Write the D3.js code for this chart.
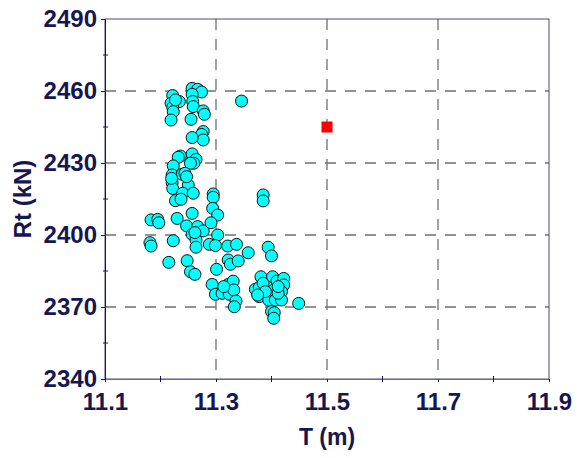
<!doctype html>
<html lang="en">
<head>
    <title>Rt vs T</title>
    <meta charset="utf-8"/>
    <script src="https://d3js.org/d3.v7.min.js"></script>
    <style>
        body {
            margin: 0;
            padding: 0;
            background: white;
        }
        svg text {
            font-family: "Liberation Sans", Arial, sans-serif;
            font-weight: bold;
            fill: #161650;
        }
    </style>
</head>
<body>
<script>

    // draught T (m) of every run
    const tValues = [
        11.222, 11.234, 11.219, 11.222, 11.223, 11.219, 11.257, 11.267, 11.274, 11.257,
        11.258, 11.259, 11.255, 11.277, 11.279, 11.277, 11.274, 11.277, 11.257, 11.346,
        11.236, 11.232, 11.257, 11.264, 11.260, 11.254, 11.223, 11.221, 11.239, 11.244,
        11.250, 11.221, 11.222, 11.240, 11.259, 11.227, 11.237, 11.295, 11.295, 11.294,
        11.303, 11.385, 11.385,
        11.183, 11.195, 11.197, 11.181, 11.183, 11.223, 11.230, 11.257, 11.247, 11.267,
        11.277, 11.257, 11.264, 11.264, 11.291, 11.303, 11.288, 11.299, 11.321, 11.337,
        11.358, 11.394, 11.400,
        11.215, 11.248, 11.254, 11.262, 11.322, 11.326, 11.340, 11.301, 11.293, 11.299,
        11.311, 11.322, 11.324, 11.331, 11.332, 11.336, 11.333, 11.314,
        11.371, 11.378, 11.381, 11.385, 11.378, 11.395, 11.402, 11.410, 11.422, 11.422,
        11.418, 11.404, 11.407, 11.418, 11.400, 11.405, 11.404, 11.449, 11.412, 11.389,
        11.227, 11.247, 11.220, 11.375, 11.412, 11.262
    ]

    // resistance Rt (kN), same order as tValues
    const rtValues = [
        2458.1, 2455.6, 2454.9, 2453.2, 2451.4, 2447.9, 2461.1, 2460.7, 2459.6, 2458.6,
        2455.6, 2453.5, 2448.2, 2451.7, 2450.3, 2443.1, 2441.9, 2439.6, 2440.6, 2455.8,
        2432.9, 2432.4, 2433.8, 2431.5, 2429.9, 2429.9, 2428.8, 2425.0, 2425.3, 2425.7,
        2420.8, 2421.8, 2419.4, 2417.4, 2417.4, 2414.3, 2414.9, 2417.1, 2415.7, 2411.1,
        2408.3, 2416.7, 2414.2,
        2406.3, 2406.5, 2405.1, 2396.8, 2395.4, 2397.6, 2406.9, 2409.0, 2403.8, 2403.5,
        2401.7, 2400.3, 2397.9, 2394.9, 2405.1, 2400.0, 2396.1, 2395.6, 2395.4, 2396.1,
        2392.6, 2394.9, 2391.3,
        2388.6, 2389.3, 2384.7, 2383.6, 2389.6, 2387.8, 2389.2, 2385.7, 2379.4, 2375.3,
        2375.7, 2379.4, 2375.3, 2380.8, 2377.1, 2372.5, 2370.1, 2378.5,
        2377.4, 2378.2, 2382.6, 2379.9, 2374.3, 2372.9, 2382.6, 2380.8, 2381.9, 2379.2,
        2376.4, 2377.1, 2372.9, 2372.9, 2368.1, 2367.6, 2365.3, 2371.5, 2375.7, 2376.4,
        2456.3, 2424.3, 2423.6, 2375.0, 2378.5, 2401.0
    ]

    // the single red reference point
    const refT = [11.5]
    const refRt = [2445]

    // ticks
    const xTicks = [11.1, 11.3, 11.5, 11.7, 11.9]
    const xMinor = [11.2, 11.4, 11.6, 11.8]
    const yTicks = [2340, 2370, 2400, 2430, 2460, 2490]
    const yMinor = [2355, 2385, 2415, 2445, 2475]

    const width = 586, height = 458
    const margin = {top: 19, right: 37, bottom: 79, left: 105}
    const navy = "#161650"

    const svg = d3.select("body")
        .append("svg")
        .attr("width", width)
        .attr("height", height)

    const x = d3.scaleLinear()
        .domain([11.1, 11.9])
        .range([margin.left, width - margin.right])

    const y = d3.scaleLinear()
        .domain([2340, 2490])
        .range([height - margin.bottom, margin.top])

    // dashed grid, only at the inner major ticks
    svg.append("g")
        .selectAll("line")
        .data(xTicks.slice(1, -1))
        .join("line")
        .attr("x1", d => x(d)).attr("x2", d => x(d))
        .attr("y1", y(2490)).attr("y2", y(2340))
        .attr("stroke", "#707070")
        .attr("stroke-width", 1.3)
        .attr("stroke-dasharray", "11,9")

    svg.append("g")
        .selectAll("line")
        .data(yTicks.slice(1, -1))
        .join("line")
        .attr("x1", x(11.1)).attr("x2", x(11.9))
        .attr("y1", d => y(d)).attr("y2", d => y(d))
        .attr("stroke", "#707070")
        .attr("stroke-width", 1.3)
        .attr("stroke-dasharray", "11,9")

    // frame round the plot
    svg.append("rect")
        .attr("x", x(11.1))
        .attr("y", y(2490))
        .attr("width", x(11.9) - x(11.1))
        .attr("height", y(2340) - y(2490))
        .attr("fill", "none")
        .attr("stroke", "#4a4a7a")
        .attr("stroke-width", 1)

    // axes
    const xAxis = svg.append("g")
        .attr("transform", `translate(0,${y(2340)})`)
        .call(d3.axisBottom(x).tickValues(xTicks).tickFormat(d3.format(".1f"))
            .tickSize(3).tickPadding(11))
    xAxis.select(".domain").attr("stroke", "#6a6a92")
    xAxis.selectAll(".tick line").attr("stroke", navy)
    xAxis.selectAll("text").style("font-size", "24px").attr("fill", navy)

    svg.append("g")
        .attr("transform", `translate(0,${y(2340)})`)
        .selectAll("line")
        .data(xMinor)
        .join("line")
        .attr("x1", d => x(d)).attr("x2", d => x(d))
        .attr("y1", -3).attr("y2", 3)
        .attr("stroke", navy)

    const yAxis = svg.append("g")
        .attr("transform", `translate(${x(11.1)},0)`)
        .call(d3.axisLeft(y).tickValues(yTicks).tickFormat(d3.format("d"))
            .tickSize(4).tickPadding(4))
    yAxis.select(".domain").attr("stroke", navy)
    yAxis.selectAll(".tick line").attr("stroke", navy)
    yAxis.selectAll("text").style("font-size", "24px").attr("fill", navy)

    svg.append("g")
        .attr("transform", `translate(${x(11.1)},0)`)
        .selectAll("line")
        .data(yMinor)
        .join("line")
        .attr("x1", -2).attr("x2", 3)
        .attr("y1", d => y(d)).attr("y2", d => y(d))
        .attr("stroke", navy)

    // axis titles
    svg.append("text")
        .attr("x", x(11.5))
        .attr("y", 445)
        .attr("text-anchor", "middle")
        .style("font-size", "23px")
        .text("T (m)")

    svg.append("text")
        .attr("transform", `translate(31,${y(2415)}) rotate(-90)`)
        .attr("text-anchor", "middle")
        .style("font-size", "24px")
        .text("Rt (kN)")

    // the runs
    svg.append("g")
        .selectAll("circle")
        .data(d3.range(tValues.length))
        .join("circle")
        .attr("cx", i => x(tValues[i]))
        .attr("cy", i => y(rtValues[i]))
        .attr("r", 6)
        .attr("fill", "#00ffff")
        .attr("stroke", "#111")
        .attr("stroke-width", 1)

    // red square
    svg.append("g")
        .selectAll("rect")
        .data(d3.range(refT.length))
        .join("rect")
        .attr("x", i => x(refT[i]) - 5.5)
        .attr("y", i => y(refRt[i]) - 5.5)
        .attr("width", 11)
        .attr("height", 11)
        .attr("fill", "#ff0000")

</script>
</body>
</html>
